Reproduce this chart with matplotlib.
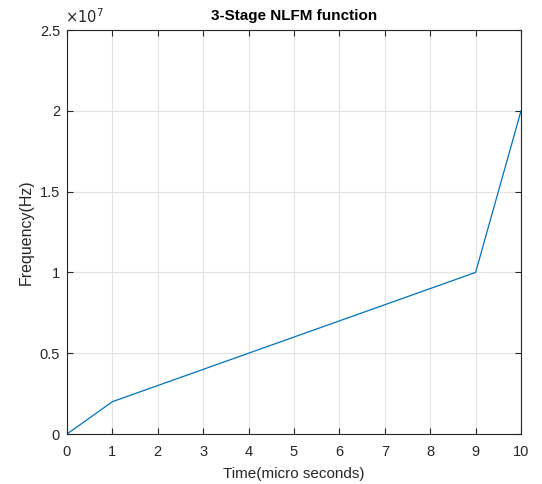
import matplotlib
matplotlib.use("Agg")
import matplotlib.pyplot as plt

plt.rcParams['font.family'] = ['Liberation Sans', 'DejaVu Sans']

# stage breakpoints of the NLFM curve
time_us = [0, 1, 9, 10]
freq_hz = [0, 2e6, 1e7, 2e7]

fig = plt.figure(figsize=(5.42, 4.84), dpi=100)
ax = fig.add_axes([0.1236, 0.1033, 0.8377, 0.8347])

ax.plot(time_us, freq_hz, color='#0072BD', linewidth=0.9)

ax.set_xlim(0, 10)
ax.set_ylim(0, 2.5e7)
ax.set_xticks(range(0, 11))
ax.set_yticks([0, 0.5e7, 1e7, 1.5e7, 2e7, 2.5e7])
ax.set_yticklabels(['0', '0.5', '1', '1.5', '2', '2.5'])

ax.grid(True, color='#e3e3e3', linewidth=0.8)
ax.set_axisbelow(True)
ax.tick_params(direction='in', top=True, right=True, length=4,
               labelsize=10.5, colors='#262626', width=0.8)
ax.tick_params(axis='x', pad=8)
ax.tick_params(axis='y', pad=5)
for s in ax.spines.values():
    s.set_color('#262626')
    s.set_linewidth(0.8)

ax.text(-0.005, 1.01, r'$\times10^{7}$', transform=ax.transAxes,
        fontsize=10.5, color='#262626', ha='left', va='bottom')

ax.set_title('3-Stage NLFM function', fontsize=11, fontweight='bold', pad=7)
ax.set_xlabel('Time(micro seconds)', fontsize=11, color='#262626', labelpad=6)
ax.set_ylabel('Frequency(Hz)', fontsize=11.5, color='#262626')

fig.savefig('out.png', dpi=100)
